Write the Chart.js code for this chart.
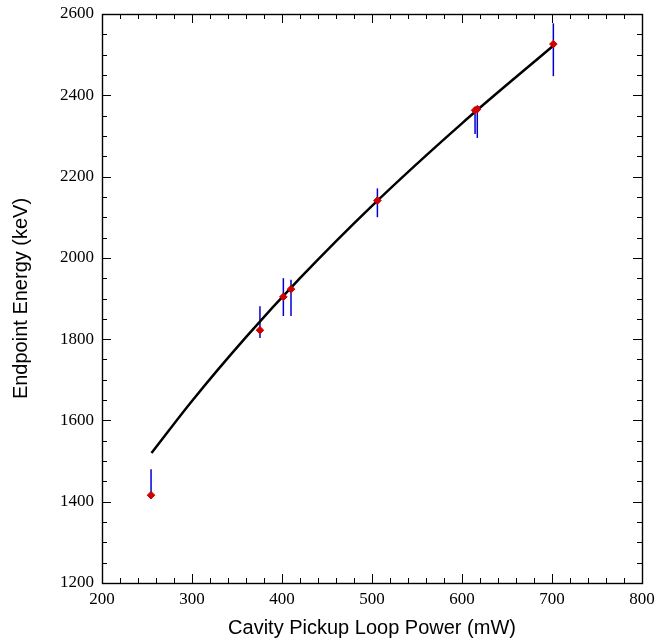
<!DOCTYPE html>
<html><head><meta charset="utf-8">
<script src="https://cdn.jsdelivr.net/npm/chart.js@4"></script>
<style>html,body{margin:0;padding:0;background:#fff}#wrap{width:658px;height:644px}</style>
</head><body><div id="wrap"><canvas id="c" width="658" height="644"></canvas></div>
<script>
// Measured points
const powerMW   = [254.5, 375.5, 401.5, 410, 506, 614.5, 617, 701.5];
const energyKeV = [1416, 1822, 1904, 1923, 2141, 2363, 2366, 2526];
const errLowKeV = [1416, 1803, 1857, 1857, 2100, 2305, 2295, 2447];
const errHighKeV= [1480, 1881, 1950, 1946, 2171, 2368, 2370, 2577];
// Fit curve
const fitPowerMW   = [255, 300, 360, 420, 500, 600, 702];
const fitEnergyKeV = [1520, 1648, 1805, 1950, 2128, 2331, 2523];
// Axis ticks
const xTickLabels = [200, 300, 400, 500, 600, 700, 800];
const yTickLabels = [1200, 1400, 1600, 1800, 2000, 2200, 2400, 2600];
const xMinorStep = 20, yMinorStep = 50;

const tickFont = {family: "'Liberation Serif', 'Times New Roman', serif", size: 17};
const titleFont = {family: "'Liberation Sans', Arial, sans-serif", size: 20};

const errorBars = {
  id: 'errorBars',
  beforeDatasetsDraw(chart) {
    const {ctx, scales: {x, y}} = chart;
    ctx.save();
    ctx.strokeStyle = '#0000d0';
    ctx.lineWidth = 1.5;
    for (let i = 0; i < powerMW.length; i++) {
      const px = x.getPixelForValue(powerMW[i]);
      ctx.beginPath();
      ctx.moveTo(px, y.getPixelForValue(errLowKeV[i]));
      ctx.lineTo(px, y.getPixelForValue(errHighKeV[i]));
      ctx.stroke();
    }
    ctx.restore();
  }
};

const frameTicks = {
  id: 'frameTicks',
  afterDraw(chart) {
    const {ctx, chartArea: a, scales: {x, y}} = chart;
    ctx.save();
    ctx.strokeStyle = '#000';
    ctx.lineWidth = 1;
    const line = (x1, y1, x2, y2) => { ctx.beginPath(); ctx.moveTo(x1, y1); ctx.lineTo(x2, y2); ctx.stroke(); };
    const x0 = xTickLabels[0], x1 = xTickLabels[xTickLabels.length - 1];
    for (let v = x0; v <= x1; v += xMinorStep) {
      const px = Math.round(x.getPixelForValue(v)) + 0.5;
      const L = xTickLabels.includes(v) ? 9 : 5;
      line(px, a.bottom, px, a.bottom - L);
      line(px, a.top, px, a.top + L);
    }
    const y0 = yTickLabels[0], y1 = yTickLabels[yTickLabels.length - 1];
    for (let v = y0; v <= y1; v += yMinorStep) {
      const py = Math.round(y.getPixelForValue(v)) + 0.5;
      const L = yTickLabels.includes(v) ? 9 : 5;
      line(a.left, py, a.left + L, py);
      line(a.right, py, a.right - L, py);
    }
    ctx.lineWidth = 1.4;
    ctx.strokeRect(Math.round(a.left) + 0.5, Math.round(a.top) + 0.5, Math.round(a.right - a.left), Math.round(a.bottom - a.top));
    ctx.restore();
  }
};

new Chart(document.getElementById('c'), {
  type: 'scatter',
  data: {
    datasets: [
      {
        type: 'line',
        data: fitPowerMW.map((v, i) => ({x: v, y: fitEnergyKeV[i]})),
        borderColor: '#000',
        borderWidth: 2.5,
        pointRadius: 0,
        cubicInterpolationMode: 'monotone',
        fill: false,
        order: 2
      },
      {
        data: powerMW.map((v, i) => ({x: v, y: energyKeV[i]})),
        pointStyle: 'rectRot',
        pointRadius: 3.8,
        backgroundColor: '#d00000',
        borderColor: '#d00000',
        borderWidth: 1,
        order: 1
      }
    ]
  },
  options: {
    responsive: false,
    devicePixelRatio: 1,
    animation: false,
    layout: {padding: {top: 14, right: 16, left: 0, bottom: 0}},
    plugins: {legend: {display: false}, tooltip: {enabled: false}},
    scales: {
      x: {
        type: 'linear', min: 200, max: 800,
        afterFit(s) { s.height = 61; s.paddingLeft = 0; s.paddingRight = 0; },
        grid: {display: false, drawTicks: false},
        border: {display: false},
        ticks: {stepSize: 100, font: tickFont, color: '#000', padding: 6, maxRotation: 0,
          callback: v => xTickLabels.includes(v) ? String(v) : ''},
        title: {display: true, text: 'Cavity Pickup Loop Power (mW)', font: titleFont, color: '#000', padding: {top: 0, bottom: 4}}
      },
      y: {
        type: 'linear', min: 1200, max: 2600,
        afterFit(s) { s.width = 102; s.paddingTop = 0; s.paddingBottom = 0; },
        grid: {display: false, drawTicks: false},
        border: {display: false},
        ticks: {stepSize: 200, font: tickFont, color: '#000', padding: 8,
          callback: v => yTickLabels.includes(v) ? String(v) : ''},
        title: {display: true, text: 'Endpoint Energy (keV)', font: titleFont, color: '#000', padding: {top: 9, bottom: 0}}
      }
    }
  },
  plugins: [errorBars, frameTicks]
});
</script>
</body></html>
